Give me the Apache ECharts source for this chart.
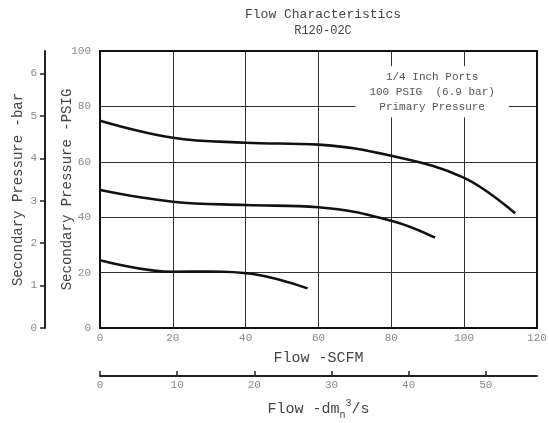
<!DOCTYPE html>
<html><head><meta charset="utf-8">
<script src="https://cdn.jsdelivr.net/npm/echarts@6/dist/echarts.min.js"></script>
<style>html,body{margin:0;padding:0;background:#fff}#c{width:549px;height:423px}</style>
</head><body><div id="c"></div>
<script>
const titleText = 'Flow Characteristics';
const subtitleText = 'R120-02C';
const psiTicks = [0, 20, 40, 60, 80, 100];
const scfmTicks = [0, 20, 40, 60, 80, 100, 120];
const barMax = 6.53;
const dmMax = 56.63;
// curves: [SCFM, PSIG]
const curveHigh = [[0,74.8],[20,68.7],[40,66.9],[60,66.2],[80,62.2],[100,54.2],[114,41.4]];
const curveMid = [[0,49.8],[20,45.6],[40,44.4],[60,43.6],[80,38.7],[92,32.6]];
const curveLow = [[0,24.5],[20,20.3],[30,20.4],[42,19.5],[57,14.3]];
const noteLines = ['1/4 Inch Ports', '100 PSIG  (6.9 bar)', 'Primary Pressure'];
const noteAnchor = [91.2, 85.3];

const FONT = 'Liberation Mono';
const chart = echarts.init(document.getElementById('c'));
const lineSeries = (d) => ({type:'line', data:d, smooth:0.4, symbol:'none', xAxisIndex:0, yAxisIndex:0,
  lineStyle:{color:'#111', width:2.6}, z:5});
const intLabel = (v)=> (Math.abs(v-Math.round(v))<1e-6 ? String(Math.round(v)) : '');
chart.setOption({
  animation:false,
  backgroundColor:'#fff',
  title:{text:titleText, subtext:subtitleText, left:318, textAlign:'center', top:3, itemGap:4,
    textStyle:{fontFamily:FONT, fontSize:13, fontWeight:'normal', color:'#444'},
    subtextStyle:{fontFamily:FONT, fontSize:12, color:'#444'}},
  grid:{left:100, top:51, width:437, height:277, show:true, borderColor:'#111', borderWidth:2,
    backgroundColor:'transparent', z:3, containLabel:false, outerBoundsMode:'none'},
  xAxis:[
    {type:'value', min:0, max:120, interval:20, position:'bottom',
     name:'Flow -SCFM', nameLocation:'middle', nameGap:23, nameMoveOverlap:false,
     nameTextStyle:{fontFamily:FONT, fontSize:15, color:'#444'},
     axisLine:{show:false, onZero:false}, axisTick:{show:false},
     axisLabel:{fontFamily:FONT, fontSize:11, color:'#888', margin:5},
     splitLine:{show:true, lineStyle:{color:'#333', width:1}}},
    {type:'value', min:0, max:dmMax, interval:10, position:'bottom', offset:48, gridIndex:0,
     name:'{a|Flow -dm}{s|n}{p|3}{a|/s}', nameLocation:'middle', nameGap:22, nameMoveOverlap:false,
     nameTextStyle:{rich:{
       a:{fontFamily:FONT, fontSize:15, color:'#444'},
       s:{fontFamily:FONT, fontSize:10, color:'#444', verticalAlign:'bottom', padding:[12,0,0,0]},
       p:{fontFamily:FONT, fontSize:10, color:'#444', verticalAlign:'top', padding:[0,0,10,0]}}},
     axisLine:{show:true, onZero:false, lineStyle:{color:'#222', width:2}},
     axisTick:{show:true, inside:true, length:5, lineStyle:{color:'#222', width:1.5}},
     axisLabel:{fontFamily:FONT, fontSize:11, color:'#888', margin:4, showMaxLabel:false, formatter:intLabel},
     splitLine:{show:false}}
  ],
  yAxis:[
    {type:'value', min:0, max:100, interval:20, position:'left',
     name:'Secondary Pressure -PSIG', nameLocation:'middle', nameGap:26, nameRotate:90, nameMoveOverlap:false,
     nameTextStyle:{fontFamily:FONT, fontSize:14, color:'#444'},
     axisLine:{show:false, onZero:false}, axisTick:{show:false},
     axisLabel:{fontFamily:FONT, fontSize:11, color:'#888', margin:9},
     splitLine:{show:true, lineStyle:{color:'#333', width:1}}},
    {type:'value', min:0, max:barMax, interval:1, position:'left', offset:55, gridIndex:0,
     name:'Secondary Pressure -bar', nameLocation:'middle', nameGap:20, nameRotate:90, nameMoveOverlap:false,
     nameTextStyle:{fontFamily:FONT, fontSize:14, color:'#444'},
     axisLine:{show:true, onZero:false, lineStyle:{color:'#222', width:2}},
     axisTick:{show:true, length:5, lineStyle:{color:'#222', width:1.5}},
     axisLabel:{fontFamily:FONT, fontSize:11, color:'#888', margin:8, showMaxLabel:false, formatter:intLabel},
     splitLine:{show:false}}
  ],
  series:[lineSeries(curveHigh), lineSeries(curveMid), lineSeries(curveLow)]
});
const p = chart.convertToPixel({gridIndex:0}, noteAnchor);
chart.setOption({graphic:[{type:'text', x:p[0], y:p[1], z:10,
  style:{text:noteLines.join('\n'), fontFamily:FONT, fontSize:11, fill:'#555', lineHeight:15,
    align:'center', verticalAlign:'middle', backgroundColor:'#fff', padding:[3,14,3,14]}}]});
</script></body></html>
